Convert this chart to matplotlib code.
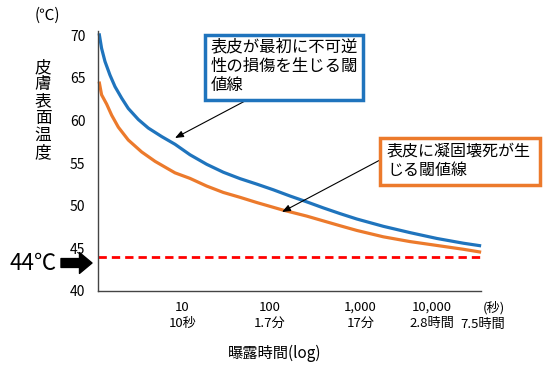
import matplotlib
matplotlib.use("Agg")
import matplotlib.pyplot as plt
from matplotlib.patches import Rectangle
from matplotlib.transforms import ScaledTranslation

plt.rcParams['font.family'] = ['Noto Sans CJK JP', 'DejaVu Sans']

# Data
# exposure time in seconds, skin surface temperature in degC
blue_t = [1.03, 1.10, 1.205, 1.377, 1.574, 1.88, 2.24, 2.93, 3.82, 5.46, 7.78, 11.6, 18.1,
	28.2, 44.0, 68.7, 107, 167, 260, 405, 632, 986, 2004, 4085, 8318, 16900, 27100]
blue_temp = [70.2, 68.45, 66.9, 65.3, 63.95, 62.6, 61.4, 60.1, 59.1, 58.1, 57.2, 55.97, 54.85,
	53.92, 53.17, 52.53, 51.86, 51.13, 50.45, 49.74, 49.07, 48.44, 47.58, 46.84, 46.16, 45.6, 45.29]

orange_t = [1.03, 1.10, 1.26, 1.44, 1.72, 2.24, 3.20, 4.57, 6.51, 7.78, 11.6, 18.1, 28.2, 44.0,
	68.7, 134, 260, 632, 986, 2004, 4085, 8318, 16900, 27100]
orange_temp = [64.55, 63.0, 61.9, 60.6, 59.2, 57.7, 56.3, 55.2, 54.3, 53.85, 53.2, 52.3, 51.55, 50.98,
	50.37, 49.52, 48.78, 47.65, 47.1, 46.35, 45.79, 45.34, 44.89, 44.55]

limit_t = [1.0, 27000]
limit_temp = [44, 44]

x_ticks = [10, 100, 1000, 10000, 27000]
x_labels = ["10\n10秒", "100\n1.7分", "1,000\n17分", "10,000\n2.8時間", "(秒)\n7.5時間"]
x_label_shift = [-2, -1, 3, -12, 2]   # px, the original labels are not exactly on the ticks
y_ticks = [40, 45, 50, 55, 60, 65, 70]

blue_label = "表皮が最初に不可逆\n性の損傷を生じる閾\n値線"
orange_label = "表皮に凝固壊死が生\nじる閾値線"

BLUE = "#1f74bd"
ORANGE = "#ec7a2c"

W, H = 560, 372
def fx(px):
	return px / W
def fy(py):
	return 1 - py / H

fig = plt.figure("skin", figsize=[5.6, 3.72], dpi=100)
ax = fig.add_axes([fx(98), 81 / H, 383 / W, 260.2 / H])

ax.plot(blue_t, blue_temp, color=BLUE, lw=2.3, clip_on=False, solid_capstyle="butt")
ax.plot(orange_t, orange_temp, color=ORANGE, lw=2.3, clip_on=False, solid_capstyle="butt")
ax.plot(limit_t, limit_temp, color="#ff0000", lw=2.0, linestyle=(0, (3, 1.8)), clip_on=False)

ax.set_xscale("log")
ax.set_xlim(1, 27000)
ax.set_ylim(40, 70.5)
ax.set_xticks(x_ticks)
ax.set_xticklabels(x_labels, fontsize=9.5, linespacing=1.35)
ax.minorticks_off()
ax.set_yticks(y_ticks)
ax.tick_params(axis="y", length=0, pad=9, labelsize=10)
ax.tick_params(axis="x", length=0, pad=7)
for lab, dx in zip(ax.get_xticklabels(), x_label_shift):
	lab.set_transform(lab.get_transform() + ScaledTranslation(dx / 100., 0, fig.dpi_scale_trans))
ax.get_xticklabels()[-1].set_multialignment("right")

for s in ["top", "right"]:
	ax.spines[s].set_visible(False)
for s in ["left", "bottom"]:
	ax.spines[s].set_color("#444444")
	ax.spines[s].set_linewidth(1.0)

# Decorate
fig.text(fx(47), fy(15), "(℃)", fontsize=11, ha="center", va="center")
fig.text(fx(43), fy(110), "\n".join("皮膚表面温度"), fontsize=12, ha="center", va="center", linespacing=1.0)
fig.text(fx(275), fy(353), "曝露時間(log)", fontsize=11, ha="center", va="center")

fig.text(fx(57), fy(263), "44℃", fontsize=16, ha="right", va="center")
ax.annotate("", xy=(fx(92), fy(263)), xycoords="figure fraction",
	xytext=(fx(61), fy(263)), textcoords="figure fraction",
	arrowprops=dict(arrowstyle="simple,head_length=0.45,head_width=0.75,tail_width=0.32",
		color="black", mutation_scale=20, shrinkA=0, shrinkB=0))

# boxes
fig.patches.append(Rectangle((fx(205), fy(100)), 158 / W, 65 / H, transform=fig.transFigure,
	facecolor="white", edgecolor=BLUE, lw=2.5, zorder=3))
fig.text(fx(211), fy(38), blue_label, fontsize=11.8, ha="left", va="top", linespacing=1.2, zorder=4)

fig.patches.append(Rectangle((fx(380), fy(185)), 160 / W, 47 / H, transform=fig.transFigure,
	facecolor="white", edgecolor=ORANGE, lw=2.5, zorder=3))
fig.text(fx(387), fy(142), orange_label, fontsize=11.5, ha="left", va="top", linespacing=1.2, zorder=4)

ax.annotate("", xy=(fx(175), fy(138)), xycoords="figure fraction",
	xytext=(fx(245), fy(101)), textcoords="figure fraction",
	arrowprops=dict(arrowstyle="-|>,head_length=0.5,head_width=0.2", color="black", lw=0.8,
		shrinkA=0, shrinkB=0))
ax.annotate("", xy=(fx(282), fy(212)), xycoords="figure fraction",
	xytext=(fx(380), fy(160)), textcoords="figure fraction",
	arrowprops=dict(arrowstyle="-|>,head_length=0.5,head_width=0.2", color="black", lw=0.8,
		shrinkA=0, shrinkB=0))

plt.savefig("out.png", dpi=100)
